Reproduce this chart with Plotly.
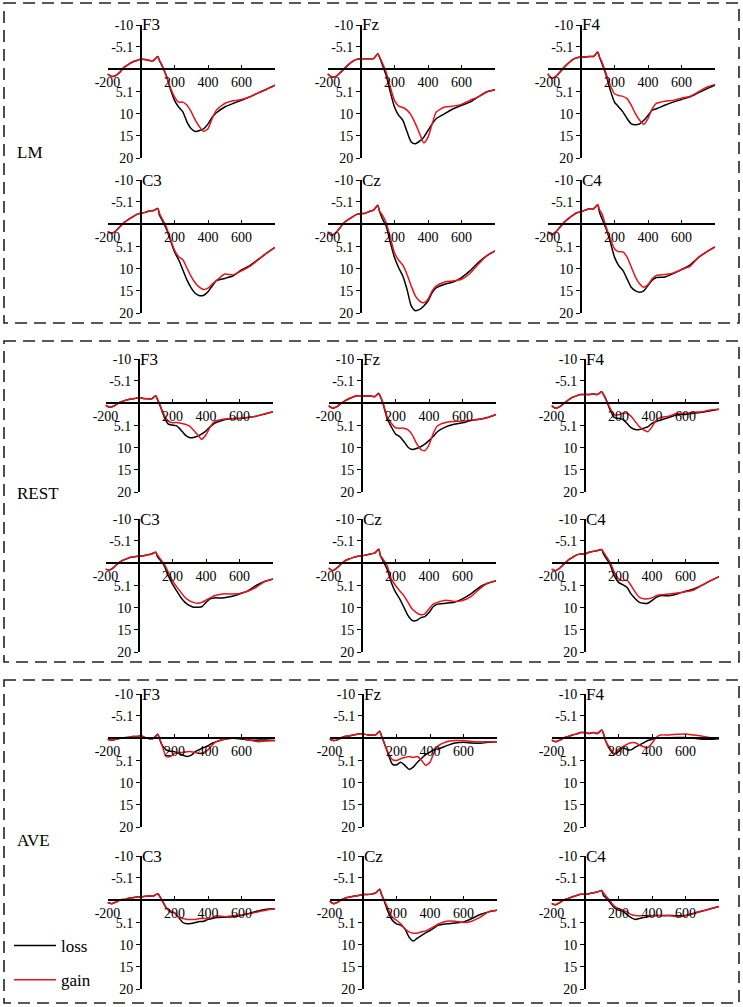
import plotly.graph_objects as go

W, H = 743, 1007

# time points (ms)
T = [-200, -175, -150, -125, -100, -75, -50, -25, 0, 25, 50, 75, 100, 110, 125,
     150, 175, 200, 225, 250, 275, 300, 325, 350, 375, 400, 425, 450,
     500, 550, 600, 650, 700, 750, 800]

# ---------------- LM ----------------
LM_F3_loss = [1.1, 1.6, 1.4, 0.6, -0.5, -1.1, -1.65, -2.0, -2.25, -2.2, -2.0, -2.0, -2.9, -2.0, -0.9,
              1.35, 4.4, 7.0, 8.5, 9.6, 11.9, 13.4, 14.0, 13.8, 13.4, 12.3, 10.8, 9.8,
              8.5, 7.7, 7.0, 6.2, 5.3, 4.5, 3.6]
LM_F3_gain = [1.1, 1.6, 1.4, 0.6, -0.5, -1.1, -1.65, -2.0, -2.25, -2.2, -2.0, -2.0, -2.9, -2.0, -0.9,
              1.35, 4.1, 6.2, 7.4, 7.4, 8.1, 9.6, 11.5, 13.0, 14.0, 13.4, 11.1, 9.2,
              7.7, 7.1, 6.8, 6.2, 5.3, 4.5, 3.6]
LM_C3_loss = [1.65, 2.0, 1.5, 0.5, -0.45, -1.1, -1.7, -2.25, -2.5, -2.7, -3.0, -3.1, -3.6, -2.1, -1.0,
              0.9, 3.5, 6.2, 8.0, 10.3, 12.6, 14.4, 15.6, 16.1, 16.0, 15.2, 13.9, 12.7,
              12.2, 11.6, 10.3, 9.3, 7.9, 6.5, 5.2]
LM_C3_gain = [1.65, 2.0, 1.5, 0.5, -0.45, -1.1, -1.7, -2.25, -2.5, -2.7, -3.0, -3.1, -3.6, -2.5, -1.35,
              0.5, 3.2, 5.8, 7.3, 8.0, 9.9, 11.8, 13.3, 14.2, 14.7, 14.4, 13.5, 12.7,
              11.2, 11.4, 10.5, 9.5, 8.0, 6.5, 5.2]
LM_Fz_loss = [1.0, 1.7, 1.6, 0.8, -0.15, -1.05, -1.8, -2.25, -2.4, -2.4, -2.4, -2.4, -3.5, -2.8, -1.3,
              1.35, 5.1, 8.5, 10.4, 11.5, 14.1, 16.4, 16.8, 16.2, 15.3, 13.8, 12.3, 11.1,
              10.0, 8.9, 8.1, 7.4, 6.2, 5.1, 4.6]
LM_Fz_gain = [1.0, 1.7, 1.6, 0.8, -0.15, -1.05, -1.8, -2.25, -2.4, -2.4, -2.4, -2.4, -3.5, -2.8, -1.65,
              0.6, 4.0, 7.0, 8.3, 8.6, 9.2, 10.4, 12.3, 14.5, 16.6, 15.3, 12.3, 9.6,
              8.5, 8.3, 7.9, 7.0, 6.2, 5.1, 4.6]
LM_Cz_loss = [1.7, 2.5, 1.9, 0.75, -0.4, -1.1, -1.7, -2.25, -2.4, -2.5, -2.9, -3.2, -4.3, -3.0, -1.5,
              0.4, 4.1, 7.5, 9.8, 11.7, 14.7, 18.4, 19.5, 19.2, 18.4, 17.3, 15.4, 14.3,
              13.5, 13.0, 12.0, 10.5, 8.6, 7.1, 6.0]
LM_Cz_gain = [1.7, 2.5, 1.9, 0.75, -0.4, -1.1, -1.7, -2.25, -2.4, -2.5, -2.9, -3.2, -4.3, -3.0, -2.25,
              -0.4, 3.0, 6.4, 8.1, 9.2, 11.3, 13.9, 16.2, 17.3, 17.7, 16.9, 15.0, 13.9,
              13.0, 12.8, 12.4, 11.1, 9.0, 7.1, 6.0]
LM_F4_loss = [1.0, 2.0, 1.6, 0.6, -0.5, -1.4, -2.2, -2.6, -2.8, -2.8, -2.9, -2.9, -3.9, -2.8, -1.3,
              1.35, 4.7, 7.4, 8.5, 9.6, 11.1, 12.3, 12.5, 12.3, 11.5, 10.4, 9.2, 8.9,
              8.1, 7.4, 6.8, 6.2, 5.3, 4.4, 3.6]
LM_F4_gain = [1.0, 2.0, 1.6, 0.6, -0.5, -1.4, -2.2, -2.6, -2.8, -2.8, -2.9, -2.9, -3.9, -2.8, -1.65,
              1.0, 3.6, 5.5, 5.9, 6.1, 6.6, 8.1, 10.0, 11.5, 12.4, 11.1, 8.9, 7.7,
              7.2, 7.0, 6.5, 6.1, 5.1, 4.0, 3.4]
LM_C4_loss = [1.7, 2.3, 1.7, 0.6, -0.5, -1.3, -2.0, -2.6, -2.8, -3.2, -3.5, -3.5, -4.4, -2.8, -1.3,
              1.0, 4.0, 7.4, 9.3, 10.4, 12.3, 14.2, 15.0, 15.3, 15.0, 13.8, 12.6, 12.0,
              11.9, 11.1, 10.2, 9.2, 7.5, 6.2, 5.1]
LM_C4_gain = [1.7, 2.3, 1.7, 0.6, -0.5, -1.3, -2.0, -2.6, -2.8, -3.2, -3.5, -3.5, -4.4, -3.3, -2.4,
              0.6, 3.2, 5.5, 6.2, 6.2, 7.4, 9.6, 11.9, 13.4, 14.2, 13.6, 12.3, 11.5,
              11.3, 11.0, 10.2, 9.5, 7.5, 6.2, 5.1]

# ---------------- REST ----------------
REST_F3_loss = [0.4, 0.9, 0.6, 0.0, -0.4, -0.75, -1.0, -1.1, -1.3, -1.1, -1.05, -1.0, -1.7, -0.9, 0.4,
                3.0, 4.7, 4.9, 5.1, 6.0, 7.1, 7.7, 7.7, 7.4, 6.9, 6.2, 5.3, 4.5,
                3.8, 3.5, 3.4, 3.2, 2.9, 2.4, 1.9]
REST_F3_gain = [0.4, 0.9, 0.6, 0.0, -0.4, -0.75, -1.0, -1.1, -1.3, -1.1, -1.05, -1.0, -1.7, -0.9, 0.4,
                2.6, 4.0, 4.4, 4.3, 4.5, 4.7, 5.1, 6.0, 7.1, 8.1, 7.1, 5.3, 4.1,
                3.6, 3.4, 3.4, 3.2, 2.9, 2.4, 1.9]
REST_C3_loss = [1.3, 1.5, 0.9, 0.0, -0.6, -1.0, -1.35, -1.5, -1.6, -1.7, -1.95, -2.1, -2.5, -1.5, -0.8,
                0.5, 2.8, 4.7, 6.2, 7.7, 8.8, 9.5, 9.9, 9.9, 9.8, 8.8, 8.0, 7.8,
                7.8, 7.5, 6.9, 6.2, 5.0, 4.1, 3.5]
REST_C3_gain = [1.3, 1.5, 0.9, 0.0, -0.6, -1.0, -1.35, -1.5, -1.6, -1.7, -1.95, -2.1, -2.5, -1.9, -1.1,
                0.15, 2.0, 3.9, 5.3, 6.5, 7.7, 8.4, 8.8, 9.0, 8.8, 8.3, 7.8, 7.3,
                6.9, 6.9, 6.8, 6.3, 5.4, 4.1, 3.5]
REST_Fz_loss = [0.5, 1.1, 0.75, 0.0, -0.6, -1.1, -1.5, -1.7, -1.7, -1.65, -1.65, -1.5, -2.25, -1.5, 0.0,
                3.4, 5.3, 6.9, 7.5, 8.6, 9.9, 10.4, 10.2, 9.8, 9.2, 8.4, 7.5, 6.4,
                5.3, 4.7, 4.4, 3.9, 3.6, 3.2, 2.5]
REST_Fz_gain = [0.5, 1.1, 0.75, 0.0, -0.6, -1.1, -1.5, -1.7, -1.7, -1.65, -1.65, -1.5, -2.25, -1.5, -0.15,
                3.0, 4.5, 5.5, 5.6, 5.6, 6.0, 7.1, 9.0, 10.4, 10.7, 9.4, 6.8, 5.1,
                4.3, 4.1, 4.0, 3.8, 3.6, 3.2, 2.5]
REST_Cz_loss = [1.05, 1.65, 1.05, 0.15, -0.6, -1.0, -1.35, -1.6, -1.7, -1.9, -2.1, -2.3, -3.2, -1.7, -0.6,
                1.3, 4.3, 6.5, 8.0, 9.9, 11.8, 12.9, 12.9, 12.3, 12.0, 11.1, 9.8, 9.2,
                9.0, 8.8, 8.0, 6.9, 5.4, 4.5, 3.9]
REST_Cz_gain = [1.05, 1.65, 1.05, 0.15, -0.6, -1.0, -1.35, -1.6, -1.7, -1.9, -2.1, -2.3, -3.2, -1.7, -1.0,
                0.5, 3.5, 5.0, 6.2, 7.3, 8.8, 10.3, 11.1, 11.6, 11.4, 10.3, 9.2, 8.8,
                8.3, 8.6, 8.4, 7.5, 5.8, 4.5, 3.9]
REST_F4_loss = [0.5, 1.1, 0.75, 0.0, -0.75, -1.35, -1.7, -2.0, -2.0, -2.0, -2.1, -2.0, -2.6, -2.0, -0.9,
                1.5, 3.2, 3.4, 3.6, 4.5, 5.5, 5.9, 5.9, 5.6, 5.3, 4.5, 4.1, 3.8,
                3.2, 2.6, 2.5, 2.25, 2.0, 1.7, 1.35]
REST_F4_gain = [0.5, 1.1, 0.75, 0.0, -0.75, -1.35, -1.7, -2.0, -2.0, -2.0, -2.1, -2.0, -2.6, -2.0, -0.9,
                1.1, 2.6, 2.6, 2.25, 2.25, 2.9, 4.1, 5.3, 6.0, 6.4, 5.3, 3.8, 3.2,
                2.9, 2.25, 2.25, 2.0, 1.9, 1.5, 1.35]
REST_C4_loss = [1.3, 1.65, 1.05, 0.15, -0.75, -1.35, -1.9, -2.1, -2.1, -2.5, -2.7, -2.9, -3.1, -2.1, -1.2,
                0.3, 2.8, 4.3, 4.8, 5.4, 6.9, 8.0, 8.8, 9.0, 9.0, 8.4, 7.7, 7.3,
                7.3, 6.9, 6.3, 5.8, 4.9, 3.9, 3.0]
REST_C4_gain = [1.3, 1.65, 1.05, 0.15, -0.75, -1.35, -1.9, -2.1, -2.1, -2.5, -2.7, -2.9, -3.1, -2.6, -1.7,
                -0.2, 2.0, 3.5, 3.9, 3.8, 5.0, 6.5, 7.7, 8.0, 8.0, 7.8, 7.3, 7.1,
                6.9, 6.7, 6.4, 6.0, 4.9, 3.9, 3.0]

# ---------------- AVE ----------------
AVE_F3_loss = [0.2, 0.4, 0.2, 0.0, -0.15, -0.2, -0.4, -0.4, -0.6, -0.15, 0.1, 0.0, -0.9, 0.0, 1.5,
               2.6, 2.9, 3.0, 3.4, 3.8, 4.1, 3.8, 3.0, 2.5, 2.1, 1.65, 1.1, 0.75,
               0.2, 0.0, 0.15, 0.4, 0.4, 0.4, 0.5]
AVE_F3_gain = [0.2, 0.4, 0.2, 0.0, -0.15, -0.2, -0.4, -0.4, -0.4, -0.2, 0.1, 0.0, -0.9, 0.0, 1.5,
               4.1, 4.1, 3.4, 3.2, 3.2, 3.0, 3.0, 3.2, 3.4, 3.2, 2.6, 1.5, 0.75,
               0.2, -0.15, 0.0, 0.4, 0.75, 0.6, 0.5]
AVE_C3_loss = [0.5, 0.75, 0.4, -0.1, -0.2, -0.45, -0.6, -0.75, -0.8, -0.9, -1.0, -1.0, -1.5, -1.0, 0.0,
               1.65, 2.6, 2.8, 3.9, 5.0, 5.3, 5.2, 5.0, 4.8, 4.7, 4.3, 4.1, 3.9,
               3.8, 3.7, 3.4, 2.9, 2.4, 2.0, 1.9]
AVE_C3_gain = [0.5, 0.75, 0.4, -0.1, -0.2, -0.45, -0.6, -0.75, -0.8, -0.9, -1.0, -1.0, -1.5, -1.0, 0.0,
               1.65, 2.4, 2.8, 3.8, 4.1, 4.3, 4.3, 4.3, 4.1, 4.1, 4.1, 3.9, 3.5,
               3.7, 3.5, 3.3, 3.0, 2.6, 2.2, 1.9]
AVE_Fz_loss = [0.15, 0.5, 0.3, -0.2, -0.45, -0.6, -0.8, -1.0, -1.0, -0.8, -0.75, -0.75, -1.6, -0.6, 0.9,
               3.5, 5.8, 6.0, 5.4, 6.1, 7.0, 6.5, 5.4, 4.5, 3.7, 3.1, 2.5, 2.4,
               1.65, 1.05, 0.9, 1.05, 1.1, 0.9, 0.75]
AVE_Fz_gain = [0.15, 0.5, 0.3, -0.2, -0.45, -0.6, -0.8, -1.0, -1.0, -0.8, -0.75, -0.75, -1.6, -0.6, 0.9,
               3.2, 4.8, 5.0, 4.6, 4.3, 4.1, 4.3, 4.1, 5.0, 6.1, 5.4, 3.1, 1.65,
               0.75, 0.5, 0.5, 0.7, 0.75, 0.75, 0.75]
AVE_Cz_loss = [0.2, 0.75, 0.4, -0.2, -0.6, -0.75, -1.0, -1.1, -1.3, -1.3, -1.4, -1.65, -2.5, -1.35, 0.0,
               2.6, 4.5, 5.3, 5.6, 6.4, 8.3, 9.2, 8.5, 7.9, 7.3, 6.8, 6.2, 5.6,
               5.3, 5.1, 4.9, 4.1, 3.2, 2.6, 2.25]
AVE_Cz_gain = [0.2, 0.75, 0.4, -0.2, -0.6, -0.75, -1.0, -1.1, -1.3, -1.3, -1.4, -1.65, -2.5, -1.35, -0.2,
               1.9, 3.8, 4.5, 5.3, 6.4, 7.1, 7.4, 7.4, 7.1, 6.9, 6.4, 5.9, 5.3,
               4.7, 4.7, 5.0, 4.7, 3.8, 2.6, 2.25]
AVE_F4_loss = [0.4, 0.75, 0.4, -0.15, -0.4, -0.75, -1.0, -1.3, -1.3, -1.1, -1.3, -1.1, -1.9, -1.1, 0.75,
               2.6, 3.6, 3.0, 2.1, 2.5, 2.6, 2.0, 1.5, 1.0, 0.5, 0.2, 0.0, 0.0,
               -0.15, -0.2, -0.2, 0.0, 0.2, 0.2, 0.1]
AVE_F4_gain = [0.4, 0.75, 0.4, -0.15, -0.4, -0.75, -1.0, -1.3, -1.3, -1.1, -1.3, -1.1, -1.9, -1.1, 0.75,
               2.25, 3.4, 2.5, 1.9, 1.35, 1.0, 1.0, 1.5, 1.9, 2.1, 1.1, -0.2, -0.75,
               -0.75, -0.9, -1.0, -0.75, -0.5, -0.15, 0.1]
AVE_C4_loss = [0.7, 1.0, 0.5, -0.1, -0.45, -0.8, -1.1, -1.35, -1.35, -1.5, -1.7, -1.9, -2.2, -1.1, -0.6,
               0.5, 1.65, 2.2, 2.4, 3.2, 3.9, 4.3, 4.1, 3.9, 3.7, 3.5, 3.4, 3.4,
               3.4, 3.5, 3.4, 2.9, 2.4, 1.9, 1.4]
AVE_C4_gain = [0.7, 1.0, 0.5, -0.1, -0.45, -0.8, -1.1, -1.35, -1.35, -1.5, -1.7, -1.9, -2.2, -1.7, -1.0,
               0.15, 1.3, 1.9, 2.2, 2.6, 3.2, 3.4, 3.5, 3.5, 3.5, 3.4, 3.4, 3.5,
               3.4, 3.7, 3.5, 3.0, 2.4, 1.9, 1.4]

GROUPS = ["LM", "REST", "AVE"]
ELECTRODES = [["F3", "Fz", "F4"], ["C3", "Cz", "C4"]]
SERIES = ["loss", "gain"]
SERIES_COLORS = {"loss": "#000000", "gain": "#e8141b"}
Y_TICKVALS = [-10, -5.1, 0, 5.1, 10, 15, 20]
Y_TICKTEXT = ["-10", "-5.1", "", "5.1", "10", "15", "20"]
X_TICKVALS = [-200, 0, 200, 400, 600]
X_TICKTEXT = ["-200", "", "200", "400", "600"]

DATA = {
    ("LM", "F3"): (LM_F3_loss, LM_F3_gain), ("LM", "Fz"): (LM_Fz_loss, LM_Fz_gain),
    ("LM", "F4"): (LM_F4_loss, LM_F4_gain), ("LM", "C3"): (LM_C3_loss, LM_C3_gain),
    ("LM", "Cz"): (LM_Cz_loss, LM_Cz_gain), ("LM", "C4"): (LM_C4_loss, LM_C4_gain),
    ("REST", "F3"): (REST_F3_loss, REST_F3_gain), ("REST", "Fz"): (REST_Fz_loss, REST_Fz_gain),
    ("REST", "F4"): (REST_F4_loss, REST_F4_gain), ("REST", "C3"): (REST_C3_loss, REST_C3_gain),
    ("REST", "Cz"): (REST_Cz_loss, REST_Cz_gain), ("REST", "C4"): (REST_C4_loss, REST_C4_gain),
    ("AVE", "F3"): (AVE_F3_loss, AVE_F3_gain), ("AVE", "Fz"): (AVE_Fz_loss, AVE_Fz_gain),
    ("AVE", "F4"): (AVE_F4_loss, AVE_F4_gain), ("AVE", "C3"): (AVE_C3_loss, AVE_C3_gain),
    ("AVE", "Cz"): (AVE_Cz_loss, AVE_Cz_gain), ("AVE", "C4"): (AVE_C4_loss, AVE_C4_gain),
}

# ---------------- layout geometry (pixels) ----------------
COL_X0 = {"LM": [141, 361, 581], "REST": [139, 362, 585], "AVE": [141, 363, 585]}  # x of t=0
ROW_TOP = {"LM": [25, 180], "REST": [359, 519], "AVE": [694, 856]}               # y of -10
PX_PER_MS = 0.1675
PLOT_H = 133
BOXES = [(4, 3, 739, 323), (4, 341, 739, 662), (4, 680, 739, 1003)]
GROUP_LABEL_Y = {"LM": 153, "REST": 493, "AVE": 840}

FONT = "Liberation Serif, Times New Roman, serif"

fig = go.Figure()
layout = dict(
    width=W, height=H, autosize=False,
    margin=dict(l=0, r=0, t=0, b=0, pad=0, autoexpand=False),
    paper_bgcolor="white", plot_bgcolor="rgba(0,0,0,0)",
    font=dict(family=FONT, size=14, color="black"),
    showlegend=True,
    legend=dict(x=9 / W, y=1 - 928 / H, xanchor="left", yanchor="top",
                bgcolor="rgba(0,0,0,0)", font=dict(family=FONT, size=17, color="black"),
                tracegroupgap=9, itemwidth=42),
)
annotations = []
shapes = []

n = 0
for g in GROUPS:
    for r, row in enumerate(ELECTRODES):
        for c, el in enumerate(row):
            n += 1
            sx = "" if n == 1 else str(n)
            x0 = COL_X0[g][c]
            top = ROW_TOP[g][r]
            left = x0 - 200 * PX_PER_MS
            right = x0 + 800 * PX_PER_MS
            zero_y = top + PLOT_H * 10 / 30
            layout["xaxis" + sx] = dict(
                domain=[left / W, right / W], range=[-200, 800],
                anchor="free", position=1 - zero_y / H,
                showline=True, linecolor="black", linewidth=1.8,
                showgrid=False, zeroline=False, automargin=False,
                tickmode="array", tickvals=X_TICKVALS, ticktext=X_TICKTEXT,
                ticks="inside", ticklen=3, tickwidth=1, tickcolor="black",
                tickfont=dict(family=FONT, size=14, color="black"),
            )
            layout["yaxis" + sx] = dict(
                domain=[1 - (top + PLOT_H) / H, 1 - top / H], range=[20, -10],
                anchor="free", position=x0 / W,
                showline=True, linecolor="black", linewidth=1.8,
                showgrid=False, zeroline=False, automargin=False,
                tickmode="array", tickvals=Y_TICKVALS, ticktext=Y_TICKTEXT,
                ticks="outside", ticklen=4, tickwidth=1, tickcolor="black",
                tickfont=dict(family=FONT, size=14, color="black"),
            )
            loss, gain = DATA[(g, el)]
            for name, vals in zip(SERIES, (loss, gain)):
                fig.add_trace(go.Scatter(
                    x=T, y=vals, mode="lines", name=name,
                    line=dict(color=SERIES_COLORS[name], width=1.5, shape="spline", smoothing=0.6),
                    xaxis="x" + sx, yaxis="y" + sx,
                    legendgroup=name, showlegend=(n == 1),
                    hoverinfo="skip",
                ))
            annotations.append(dict(
                x=0, y=-10, xref="x" + sx, yref="y" + sx, text=el, showarrow=False,
                xanchor="left", yanchor="middle", xshift=-1,
                font=dict(family=FONT, size=17, color="black"),
            ))

for g in GROUPS:
    annotations.append(dict(
        x=15 / W, y=1 - GROUP_LABEL_Y[g] / H, xref="paper", yref="paper", text=g,
        showarrow=False, xanchor="left", yanchor="middle",
        font=dict(family=FONT, size=17, color="black"),
    ))

for (bx0, by0, bx1, by1) in BOXES:
    shapes.append(dict(
        type="rect", xref="paper", yref="paper",
        x0=bx0 / W, x1=bx1 / W, y0=1 - by0 / H, y1=1 - by1 / H,
        line=dict(color="#222222", width=1.6, dash="12px,7px"),
    ))

layout["annotations"] = annotations
layout["shapes"] = shapes
fig.update_layout(**layout)
fig.write_html(
    "out.html",
    config={"displayModeBar": False},
    post_script="document.body.style.margin='0';document.body.style.padding='0';",
)
